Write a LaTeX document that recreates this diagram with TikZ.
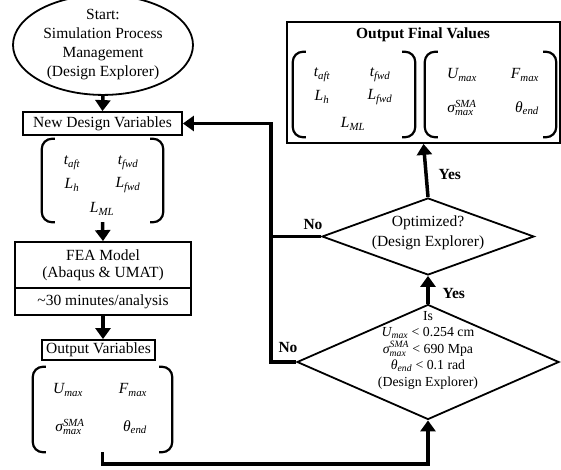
\documentclass[tikz,border=0pt]{standalone}
\usepackage{amsmath}
\usepackage{fontspec}
\setmainfont{Liberation Serif}
\usetikzlibrary{shapes.geometric,arrows.meta}
\newcommand\mv[2]{$\textit{#1}_{\textit{#2}}$}
\newcommand\msig{$\textit{σ}^{\textit{SMA}}_{\textit{max}}$}
\begin{document}
\begin{tikzpicture}[x=1pt,y=-1pt,
  font=\fontsize{15.5}{19}\selectfont,
  box/.style={draw,line width=1.8pt,inner sep=0pt},
  brk/.style={line width=2.2pt,rounded corners=10pt},
  conn/.style={line width=3.5pt},
  arr/.style={conn,-{Triangle[width=15pt,length=11pt]}},
  lbl/.style={font=\fontsize{15.5}{19}\selectfont\bfseries},
  grp/.style={inner sep=0pt}]
\useasboundingbox (0,0) rectangle (561,470);

% ---------- left column ----------
\node[box,ellipse,minimum width=180pt,minimum height=86pt,align=center] (start) at (103,45)
  {Start:\\Simulation Process\\Management\\(Design Explorer)};
\node[box,minimum width=159pt,minimum height=23pt] (ndv) at (102.5,123.5) {New Design Variables};

\node[grp,minimum width=121pt,minimum height=83pt] (inv) at (102.5,180.5) {};
\draw[brk] ([xshift=13pt]inv.north west) -- (inv.north west) -- (inv.south west) -- ([xshift=13pt]inv.south west);
\draw[brk] ([xshift=-13pt]inv.north east) -- (inv.north east) -- (inv.south east) -- ([xshift=-13pt]inv.south east);
\node (ta) at (72,163) {\mv{t}{aft}};
\node (tf) at (128,163) {\mv{t}{fwd}};
\node (lh) at (72,185) {\mv{L}{h}};
\node (lf) at (128,185) {\mv{L}{fwd}};
\node (lm) at (102,209) {\mv{L}{ML}};

\node[box,minimum width=176pt,minimum height=46pt,align=center,font=\fontsize{15.5}{17}\selectfont] (fea) at (103,265)
  {FEA Model\\(Abaqus \& UMAT)};
\node[box,minimum width=176pt,minimum height=27pt] (time) at (103,301.5) {\textasciitilde30 minutes/analysis};

\node[box,minimum width=113pt,minimum height=20pt] (ov) at (98.5,350) {Output Variables};

\node[grp,minimum width=139pt,minimum height=85pt] (ovb) at (102.5,409.5) {};
\draw[brk] ([xshift=13pt]ovb.north west) -- (ovb.north west) -- (ovb.south west) -- ([xshift=13pt]ovb.south west);
\draw[brk] ([xshift=-13pt]ovb.north east) -- (ovb.north east) -- (ovb.south east) -- ([xshift=-13pt]ovb.south east);
\node (um) at (68,390) {\mv{U}{max}};
\node (fm) at (133,390) {\mv{F}{max}};
\node (sg) at (70,427) {\msig};
\node (te) at (135,427) {\mv{θ}{end}};

% ---------- right column ----------
\node[box,minimum width=273pt,minimum height=121pt] (ofv) at (423.5,82.5) {};
\node[lbl] (oft) at (423,35) {Output Final Values};
\node[grp,minimum width=122pt,minimum height=85pt] (fb1) at (354,94.5) {};
\draw[brk] ([xshift=13pt]fb1.north west) -- (fb1.north west) -- (fb1.south west) -- ([xshift=13pt]fb1.south west);
\draw[brk] ([xshift=-13pt]fb1.north east) -- (fb1.north east) -- (fb1.south east) -- ([xshift=-13pt]fb1.south east);
\node[grp,minimum width=131pt,minimum height=85pt] (fb2) at (490.5,94.5) {};
\draw[brk] ([xshift=13pt]fb2.north west) -- (fb2.north west) -- (fb2.south west) -- ([xshift=13pt]fb2.south west);
\draw[brk] ([xshift=-13pt]fb2.north east) -- (fb2.north east) -- (fb2.south east) -- ([xshift=-13pt]fb2.south east);
\node (fta) at (322,75) {\mv{t}{aft}};
\node (ftf) at (380,75) {\mv{t}{fwd}};
\node (flh) at (322,97) {\mv{L}{h}};
\node (flf) at (380,97) {\mv{L}{fwd}};
\node (flm) at (353,124) {\mv{L}{ML}};
\node (fum) at (462,75) {\mv{U}{max}};
\node (ffm) at (525,75) {\mv{F}{max}};
\node (fsg) at (462,108) {\msig};
\node (fte) at (527,108) {\mv{θ}{end}};

\node[box,diamond,minimum width=212pt,minimum height=77pt] (d1) at (428,236.5) {};
\node[align=center,font=\fontsize{15.5}{20}\selectfont] (d1t) at (428,233) {Optimized?\\(Design Explorer)};

\node[box,diamond,minimum width=262pt,minimum height=115pt] (d2) at (428,362) {};
\node[align=center,font=\fontsize{13.8}{16.5}\selectfont] (d2t) at (428,350)
  {Is\\\mv{U}{max} < 0.254 cm\\\msig{} < 690 Mpa\\\mv{θ}{end} < 0.1 rad\\(Design Explorer)};

% ---------- connectors ----------
\coordinate (lp) at (271,0);
\draw[arr] (start.south) -- (ndv.north);
\draw[arr] (inv.south) -- (fea.north);
\draw[arr] (time.south) -- (time.south |- ov.north);
\draw[arr] (ovb.south) -- ++(0,12) -| (d2.south);
\draw[arr] (d2.north) -- (d1.south);
\draw[arr] (d1.north) -- (ofv.south);
\draw[arr] (d2.west) -- (lp |- d2.west) -- (lp |- ndv.east) -- (ndv.east);
\draw[conn] (d1.west) -- (lp |- d1.west);

\node[lbl] (no1) at (313,225) {No};
\node[lbl] (no2) at (288,347) {No};
\node[lbl,anchor=west] (yes1) at (435,175) {Yes};
\node[lbl,anchor=west] (yes2) at (439,293) {Yes};
\end{tikzpicture}
\end{document}
